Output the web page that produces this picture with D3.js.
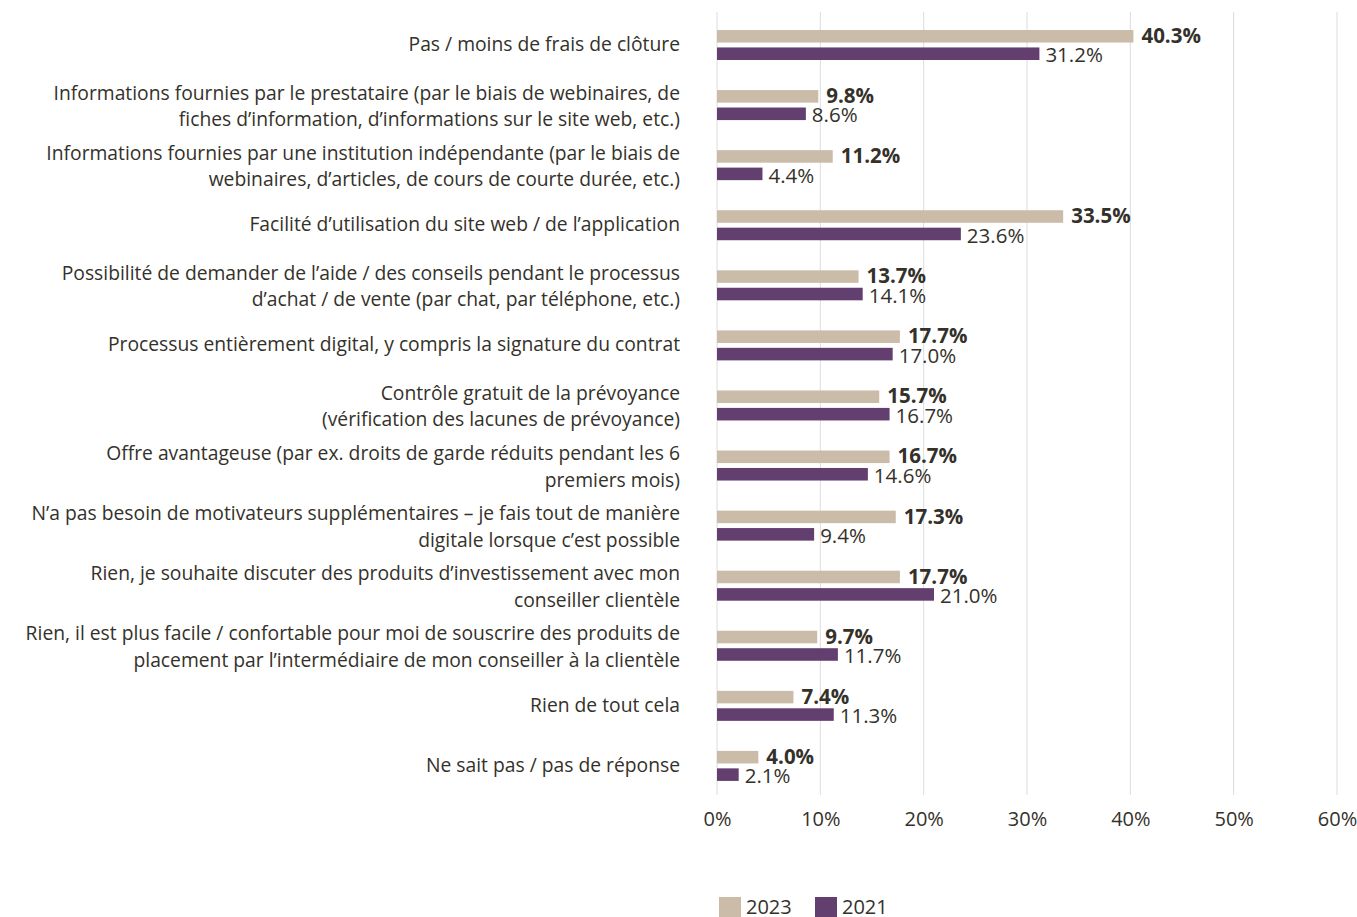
<!DOCTYPE html>
<html>
<head>
<meta charset="utf-8">
<script src="https://cdn.jsdelivr.net/npm/d3@7"></script>
<style>
  body { margin: 0; background: #fff; }
  svg text { font-family: "Open Sans", "Noto Sans", sans-serif; fill: #34312a; }
</style>
</head>
<body>
<script>
const categories = [
  ["Pas / moins de frais de clôture"],
  ["Informations fournies par le prestataire (par le biais de webinaires, de", "fiches d\u2019information, d\u2019informations sur le site web, etc.)"],
  ["Informations fournies par une institution indépendante (par le biais de", "webinaires, d\u2019articles, de cours de courte durée, etc.)"],
  ["Facilité d\u2019utilisation du site web / de l\u2019application"],
  ["Possibilité de demander de l\u2019aide / des conseils pendant le processus", "d\u2019achat / de vente (par chat, par téléphone, etc.)"],
  ["Processus entièrement digital, y compris la signature du contrat"],
  ["Contrôle gratuit de la prévoyance", "(vérification des lacunes de prévoyance)"],
  ["Offre avantageuse (par ex. droits de garde réduits pendant les 6", "premiers mois)"],
  ["N\u2019a pas besoin de motivateurs supplémentaires \u2013 je fais tout de manière", "digitale lorsque c\u2019est possible"],
  ["Rien, je souhaite discuter des produits d\u2019investissement avec mon", "conseiller clientèle"],
  ["Rien, il est plus facile / confortable pour moi de souscrire des produits de", "placement par l\u2019intermédiaire de mon conseiller à la clientèle"],
  ["Rien de tout cela"],
  ["Ne sait pas / pas de réponse"]
];
const values2023 = [40.3, 9.8, 11.2, 33.5, 13.7, 17.7, 15.7, 16.7, 17.3, 17.7, 9.7, 7.4, 4.0];
const values2021 = [31.2, 8.6, 4.4, 23.6, 14.1, 17.0, 16.7, 14.6, 9.4, 21.0, 11.7, 11.3, 2.1];
const series = ["2023", "2021"];
const xTicks = [0, 10, 20, 30, 40, 50, 60];

const colors = { "2023": "#cbbcaa", "2021": "#633f70" };

const W = 1357, H = 917;
const m = { left: 717, right: 1337, top: 12, bottom: 793 };

const svg = d3.select("body").append("svg")
  .attr("width", W).attr("height", H);

const x = d3.scaleLinear().domain([0, 60]).range([m.left, m.right]);
const y = d3.scaleBand().domain(d3.range(categories.length)).range([m.top, m.bottom]);
const inner = d3.scaleBand().domain(series).range([18, 48]).paddingInner(0.28);

// grid
svg.append("g").selectAll("line").data(xTicks).join("line")
  .attr("x1", d => x(d)).attr("x2", d => x(d))
  .attr("y1", m.top).attr("y2", m.bottom + 2)
  .attr("stroke", "#dcdcdc").attr("stroke-width", 1);

// axis labels
const xAxis = d3.axisBottom(x).tickValues(xTicks).tickFormat(d => d + "%").tickSize(0).tickPadding(0);
const ax = svg.append("g").attr("transform", `translate(0,${m.bottom + 19})`).call(xAxis);
ax.select(".domain").remove();
ax.selectAll("text").attr("font-size", 20).attr("dy", "0.71em")
  .style("font-family", "'Open Sans', sans-serif").attr("fill", "#34312a");

const groups = svg.append("g").selectAll("g").data(categories).join("g")
  .attr("transform", (d, i) => `translate(0,${y(i)})`);

// category labels
groups.append("text")
  .attr("x", 680).attr("text-anchor", "end").attr("font-size", 19.3)
  .each(function(d) {
    const t = d3.select(this);
    const lh = 26.5;
    const y0 = y.bandwidth() / 2 + 2 + (d.length > 1 ? 2 : 0) - (d.length - 1) * lh / 2;
    d.forEach((line, k) => {
      t.append("tspan").attr("x", 680).attr("y", y0 + k * lh).attr("dy", "0.35em").text(line);
    });
  });

const data = [values2023, values2021];
series.forEach((s, si) => {
  const vals = data[si];
  groups.append("rect")
    .attr("x", x(0))
    .attr("y", inner(s))
    .attr("width", (d, i) => x(vals[i]) - x(0))
    .attr("height", inner.bandwidth())
    .attr("fill", colors[s]);
  groups.append("text")
    .attr("x", (d, i) => x(vals[i]) + (si === 0 ? 8 : 6))
    .attr("y", inner(s) + inner.bandwidth() / 2 + (si === 0 ? -0.5 : 1.5))
    .attr("dy", "0.35em")
    .attr("font-size", 20.5)
    .attr("font-weight", si === 0 ? "bold" : "normal")
    .text((d, i) => vals[i].toFixed(1) + "%");
});

// legend
const legend = svg.append("g").attr("transform", "translate(719,897)");
const li = legend.selectAll("g").data(series).join("g")
  .attr("transform", (d, i) => `translate(${i * 96},0)`);
li.append("rect").attr("width", 22).attr("height", 20).attr("fill", d => colors[d]);
li.append("text").attr("x", 27).attr("y", 10).attr("dy", "0.35em").attr("font-size", 20).text(d => d);
</script>
</body>
</html>
